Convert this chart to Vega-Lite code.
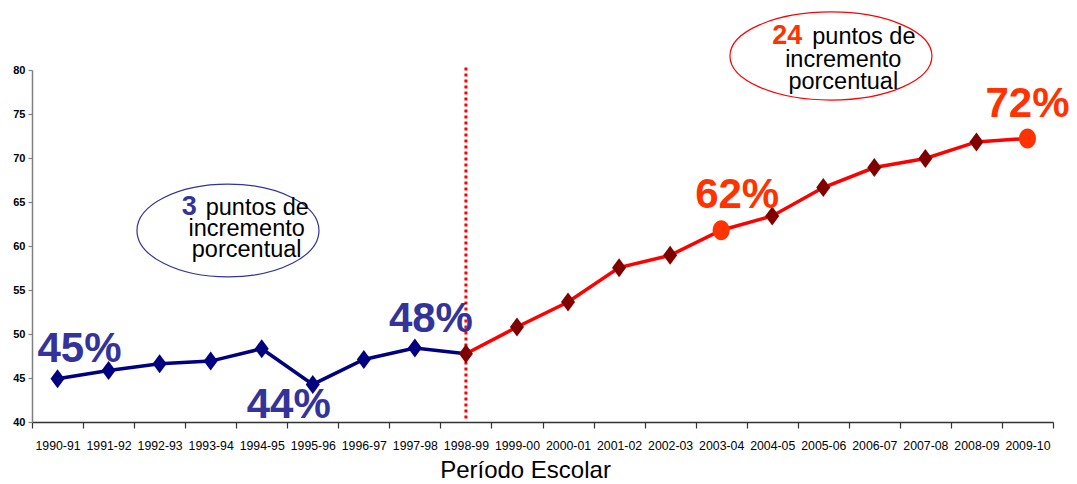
{
  "$schema": "https://vega.github.io/schema/vega-lite/v6.json",
  "width": 1021,
  "height": 352,
  "autosize": {"type": "none"},
  "padding": {"left": 32, "top": 70, "right": 24, "bottom": 62},
  "background": "white",
  "config": {
    "view": {"stroke": null},
    "font": "Liberation Sans",
    "axisY": {
      "grid": false, "domainColor": "#808080", "domainWidth": 1.5,
      "tickColor": "#808080", "tickSize": 4, "tickWidth": 1.2,
      "labelFont": "Liberation Sans", "labelFontWeight": "bold",
      "labelFontSize": 11, "labelColor": "#000000", "labelPadding": 3
    },
    "axisX": {
      "grid": false, "domainColor": "#333333", "domainWidth": 1.5,
      "tickColor": "#333333", "tickSize": 6, "tickWidth": 1.2, "tickBand": "extent",
      "labelAngle": 0, "labelFont": "Liberation Sans",
      "labelFontSize": 12.3, "labelColor": "#000000", "labelPadding": 11, "labelOverlap": false,
      "titleFont": "Liberation Sans", "titleFontSize": 24, "titleFontWeight": "normal",
      "titleColor": "#000000", "titleX": 493, "titleY": 55, "titleAlign": "center",
      "titleBaseline": "alphabetic"
    }
  },
  "datasets": {
    "serie": [
      {"period": "1990-91", "value": 44.91, "tramo": "A", "destacado": false},
      {"period": "1991-92", "value": 45.86, "tramo": "A", "destacado": false},
      {"period": "1992-93", "value": 46.62, "tramo": "A", "destacado": false},
      {"period": "1993-94", "value": 46.92, "tramo": "A", "destacado": false},
      {"period": "1994-95", "value": 48.33, "tramo": "A", "destacado": false},
      {"period": "1995-96", "value": 44.27, "tramo": "A", "destacado": false},
      {"period": "1996-97", "value": 47.11, "tramo": "A", "destacado": false},
      {"period": "1997-98", "value": 48.4, "tramo": "A", "destacado": false},
      {"period": "1998-99", "value": 47.76, "tramo": "B", "destacado": false},
      {"period": "1999-00", "value": 50.79, "tramo": "B", "destacado": false},
      {"period": "2000-01", "value": 53.63, "tramo": "B", "destacado": false},
      {"period": "2001-02", "value": 57.54, "tramo": "B", "destacado": false},
      {"period": "2002-03", "value": 58.94, "tramo": "B", "destacado": false},
      {"period": "2003-04", "value": 61.79, "tramo": "B", "destacado": true},
      {"period": "2004-05", "value": 63.41, "tramo": "B", "destacado": false},
      {"period": "2005-06", "value": 66.64, "tramo": "B", "destacado": false},
      {"period": "2006-07", "value": 68.92, "tramo": "B", "destacado": false},
      {"period": "2007-08", "value": 69.94, "tramo": "B", "destacado": false},
      {"period": "2008-09", "value": 71.83, "tramo": "B", "destacado": false},
      {"period": "2009-10", "value": 72.22, "tramo": "B", "destacado": true}
    ]
  },
  "encoding": {
    "x": {
      "field": "period", "type": "nominal", "title": "Período Escolar",
      "scale": {"domain": ["1990-91","1991-92","1992-93","1993-94","1994-95","1995-96","1996-97","1997-98","1998-99","1999-00","2000-01","2001-02","2002-03","2003-04","2004-05","2005-06","2006-07","2007-08","2008-09","2009-10"], "paddingInner": 0, "paddingOuter": 0}
    },
    "y": {
      "field": "value", "type": "quantitative", "title": null,
      "scale": {"domain": [40, 80], "nice": false, "zero": false},
      "axis": {"values": [40, 45, 50, 55, 60, 65, 70, 75, 80]}
    }
  },
  "layer": [
    {
      "data": {"values": [{"period": "1998-99", "value": 40.4, "value2": 80.4}]},
      "mark": {"type": "rule", "color": "#FF0000", "strokeWidth": 3, "strokeDash": [3, 3]},
      "encoding": {"y2": {"field": "value2"}}
    },
    {
      "data": {"name": "serie"},
      "transform": [{"filter": "datum.tramo == 'A' || datum.period == '1998-99'"}],
      "mark": {"type": "line", "color": "#000080", "strokeWidth": 3.5},
      "encoding": {}
    },
    {
      "data": {"name": "serie"},
      "transform": [{"filter": "datum.tramo == 'B'"}],
      "mark": {"type": "line", "color": "#FF0000", "strokeWidth": 3.5},
      "encoding": {}
    },
    {
      "data": {"name": "serie"},
      "transform": [{"filter": "datum.tramo == 'A'"}],
      "mark": {"type": "point", "shape": "M0,-1L0.74,0L0,1L-0.74,0Z", "size": 361, "filled": true, "color": "#000080", "opacity": 1},
      "encoding": {}
    },
    {
      "data": {"name": "serie"},
      "transform": [{"filter": "datum.tramo == 'B' && !datum.destacado"}],
      "mark": {"type": "point", "shape": "M0,-1L0.74,0L0,1L-0.74,0Z", "size": 361, "filled": true, "color": "#800000", "opacity": 1},
      "encoding": {}
    },
    {
      "data": {"name": "serie"},
      "transform": [{"filter": "datum.destacado"}],
      "mark": {"type": "point", "shape": "M-0.85,0C-0.85,-0.5523,-0.4695,-1,0,-1C0.4695,-1,0.85,-0.5523,0.85,0C0.85,0.5523,0.4695,1,0,1C-0.4695,1,-0.85,0.5523,-0.85,0Z", "size": 400, "filled": true, "color": "#FF3300", "opacity": 1},
      "encoding": {}
    },
    {
      "data": {"values": [{"period": "1990-91", "value": 46.82, "label": "45%"}]},
      "mark": {"type": "text", "font": "Liberation Sans", "fontSize": 42, "fontWeight": "bold", "color": "#333399", "align": "center", "baseline": "alphabetic", "dx": 22},
      "encoding": {"text": {"field": "label"}}
    },
    {
      "data": {"values": [{"period": "1995-96", "value": 40.45, "label": "44%"}]},
      "mark": {"type": "text", "font": "Liberation Sans", "fontSize": 42, "fontWeight": "bold", "color": "#333399", "align": "center", "baseline": "alphabetic", "dx": -24},
      "encoding": {"text": {"field": "label"}}
    },
    {
      "data": {"values": [{"period": "1998-99", "value": 50.2, "label": "48%"}]},
      "mark": {"type": "text", "font": "Liberation Sans", "fontSize": 42, "fontWeight": "bold", "color": "#333399", "align": "center", "baseline": "alphabetic", "dx": -35},
      "encoding": {"text": {"field": "label"}}
    },
    {
      "data": {"values": [{"period": "2003-04", "value": 64.32, "label": "62%"}]},
      "mark": {"type": "text", "font": "Liberation Sans", "fontSize": 42, "fontWeight": "bold", "color": "#FF3300", "align": "center", "baseline": "alphabetic", "dx": 16},
      "encoding": {"text": {"field": "label"}}
    },
    {
      "data": {"values": [{"period": "2009-10", "value": 74.63, "label": "72%"}]},
      "mark": {"type": "text", "font": "Liberation Sans", "fontSize": 42, "fontWeight": "bold", "color": "#FF3300", "align": "center", "baseline": "alphabetic", "dx": 0},
      "encoding": {"text": {"field": "label"}}
    },
    {
      "data": {"values": [{"period": "1993-94", "value": 61.76}]},
      "mark": {"type": "point", "shape": "M-0.81,0C-0.81,-0.2817,-0.3623,-0.51,0.19,-0.51C0.7423,-0.51,1.19,-0.2817,1.19,0C1.19,0.2817,0.7423,0.51,0.19,0.51C-0.3623,0.51,-0.81,0.2817,-0.81,0Z", "size": 33124, "filled": false, "stroke": "#333399", "strokeWidth": 1.2, "opacity": 1},
      "encoding": {}
    },
    {
      "data": {"values": [{"period": "2005-06", "value": 81.59}]},
      "mark": {"type": "point", "shape": "M-0.924,0C-0.924,-0.2408,-0.4763,-0.436,0.076,-0.436C0.6283,-0.436,1.076,-0.2408,1.076,0C1.076,0.2408,0.6283,0.436,0.076,0.436C-0.4763,0.436,-0.924,0.2408,-0.924,0Z", "size": 40804, "filled": false, "stroke": "#FF0000", "strokeWidth": 1.2, "opacity": 1},
      "encoding": {}
    },
    {
      "data": {"values": [{"period": "1993-94", "value": 63.52, "label": "3"}]},
      "mark": {"type": "text", "font": "Liberation Sans", "fontSize": 27, "fontWeight": "bold", "color": "#333399", "align": "right", "baseline": "alphabetic", "dx": -14},
      "encoding": {"text": {"field": "label"}}
    },
    {
      "data": {"values": [{"period": "1993-94", "value": 63.52, "label": "puntos de"}]},
      "mark": {"type": "text", "font": "Liberation Sans", "fontSize": 23.5, "color": "#000000", "align": "left", "baseline": "alphabetic", "dx": -5},
      "encoding": {"text": {"field": "label"}}
    },
    {
      "data": {"values": [{"period": "1993-94", "value": 61.14, "label": "incremento"}, {"period": "1993-94", "value": 58.75, "label": "porcentual"}]},
      "mark": {"type": "text", "font": "Liberation Sans", "fontSize": 23.5, "color": "#000000", "align": "center", "baseline": "alphabetic", "dx": 36},
      "encoding": {"text": {"field": "label"}}
    },
    {
      "data": {"values": [{"period": "2005-06", "value": 82.95, "label": "24"}]},
      "mark": {"type": "text", "font": "Liberation Sans", "fontSize": 27, "fontWeight": "bold", "color": "#FF3300", "align": "right", "baseline": "alphabetic", "dx": -21},
      "encoding": {"text": {"field": "label"}}
    },
    {
      "data": {"values": [{"period": "2005-06", "value": 82.95, "label": "puntos de"}]},
      "mark": {"type": "text", "font": "Liberation Sans", "fontSize": 23.5, "color": "#000000", "align": "left", "baseline": "alphabetic", "dx": -11},
      "encoding": {"text": {"field": "label"}}
    },
    {
      "data": {"values": [{"period": "2005-06", "value": 80.38, "label": "incremento"}, {"period": "2005-06", "value": 77.84, "label": "porcentual"}]},
      "mark": {"type": "text", "font": "Liberation Sans", "fontSize": 23.5, "color": "#000000", "align": "center", "baseline": "alphabetic", "dx": 20},
      "encoding": {"text": {"field": "label"}}
    }
  ]
}
